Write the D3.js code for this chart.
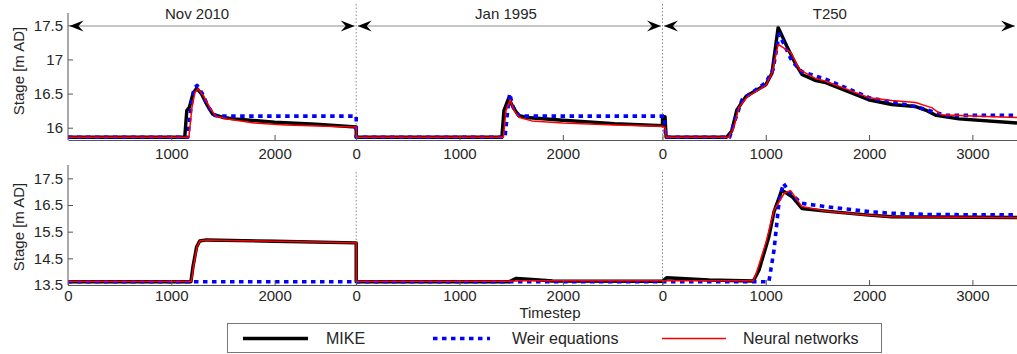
<!DOCTYPE html>
<html>
<head>
<meta charset="utf-8">
<script src="https://cdn.jsdelivr.net/npm/d3@7"></script>
<style>
  body { margin: 0; background: #fff; }
  svg text { font-family: "Liberation Sans", Arial, sans-serif; fill: #262626; }
</style>
</head>
<body>
<svg id="chart" width="1017" height="354"></svg>
<script>
// Events (segments along the x axis) and their lengths in timesteps
var events = ["Nov 2010", "Jan 1995", "T250"];
var eventLengths = [2790, 2965, 3432];
var eventTitleAt = [1250, 1450, 1620];

// Top panel series, one list of [timestep, stage] per event
var topMike = [
  [[0,15.86],[1130,15.86],[1150,16.25],[1175,16.3],[1210,16.5],[1245,16.58],[1290,16.5],[1340,16.35],[1400,16.2],[1500,16.15],[1610,16.13],[2000,16.08],[2400,16.05],[2790,16.01]],
  [[0,15.86],[1410,15.86],[1430,16.25],[1475,16.43],[1520,16.3],[1570,16.18],[1650,16.15],[2000,16.11],[2500,16.06],[2965,16.03]],
  [[0,16.16],[25,16.16],[35,15.86],[620,15.86],[670,15.95],[720,16.26],[810,16.46],[1000,16.63],[1060,16.8],[1120,17.47],[1205,17.19],[1290,16.93],[1350,16.78],[1485,16.69],[1580,16.66],[1995,16.41],[2220,16.34],[2450,16.31],[2560,16.25],[2650,16.18],[2870,16.13],[3432,16.07]]
];
var topWeir = [
  [[0,15.86],[1160,15.86],[1190,16.3],[1220,16.58],[1250,16.62],[1300,16.5],[1360,16.3],[1420,16.18],[1460,16.17],[2790,16.17]],
  [[0,15.86],[1440,15.86],[1470,16.3],[1485,16.5],[1520,16.3],[1580,16.17],[2965,16.17]],
  [[0,16.17],[20,16.17],[30,15.86],[650,15.86],[700,16.1],[770,16.41],[1000,16.66],[1070,16.85],[1130,17.37],[1255,16.97],[1350,16.82],[1580,16.71],[2000,16.44],[2450,16.31],[2650,16.22],[2750,16.18],[3432,16.18]]
];
var topNeural = [
  [[0,15.86],[1170,15.86],[1200,16.3],[1230,16.52],[1260,16.57],[1310,16.47],[1370,16.3],[1430,16.17],[1530,16.13],[1800,16.07],[2100,16.04],[2500,16.02],[2790,16.01]],
  [[0,15.86],[1425,15.86],[1450,16.25],[1490,16.41],[1530,16.25],[1580,16.15],[1700,16.1],[2000,16.07],[2500,16.04],[2965,16.02]],
  [[0,16.01],[25,16.01],[35,15.86],[640,15.86],[690,16.0],[740,16.3],[820,16.45],[1000,16.62],[1060,16.8],[1120,17.22],[1245,17.1],[1325,16.85],[1485,16.72],[1580,16.68],[2000,16.44],[2220,16.4],[2450,16.37],[2610,16.29],[2700,16.19],[3000,16.17],[3432,16.15]]
];

// Bottom panel series
var botMike = [
  [[0,13.62],[1190,13.62],[1210,14.19],[1245,14.93],[1275,15.15],[1340,15.19],[2000,15.14],[2790,15.08]],
  [[0,13.62],[1480,13.62],[1550,13.75],[1700,13.71],[1900,13.65],[2965,13.64]],
  [[0,13.64],[40,13.77],[450,13.69],[880,13.65],[935,14.06],[1030,15.31],[1080,16.25],[1155,17.06],[1255,16.81],[1350,16.37],[1580,16.27],[2000,16.12],[2220,16.06],[3432,16.03]]
];
var botWeir = [
  [[0,13.62],[2790,13.62]],
  [[0,13.62],[2965,13.62]],
  [[0,13.62],[1030,13.62],[1080,14.81],[1130,16.68],[1170,17.31],[1255,16.87],[1350,16.56],[1580,16.44],[2000,16.25],[2220,16.19],[2600,16.14],[3432,16.13]]
];
var botNeural = [
  [[0,13.63],[1195,13.63],[1215,14.2],[1250,14.95],[1280,15.16],[1345,15.19],[2000,15.14],[2790,15.08]],
  [[0,13.63],[1500,13.64],[1600,13.66],[2965,13.66]],
  [[0,13.66],[880,13.66],[905,13.9],[1000,15.07],[1080,16.31],[1180,16.95],[1240,17.04],[1350,16.44],[1580,16.27],[2000,16.12],[2220,16.06],[3432,16.02]]
];

var topYTicks = [16, 16.5, 17, 17.5];
var botYTicks = [13.5, 14.5, 15.5, 16.5, 17.5];
var localTicks = [1000, 2000, 3000];

var legendNames = ["MIKE", "Weir equations", "Neural networks"];

var styles = [
  {color: "#000000", width: 3.4, dash: null},
  {color: "#0000ff", width: 3.6, dash: "4.5,4.5"},
  {color: "#ff0000", width: 1.5, dash: null}
];

var W = 1017, H = 354;
var svg = d3.select("#chart");

var offsets = [0];
eventLengths.forEach(function(l, i) { offsets.push(offsets[i] + l); });

var x = d3.scaleLinear().domain([0, 9187]).range([68, 1017]);

var panels = [
  {top: 13, bottom: 140, domain: [15.82, 17.68], yTicks: topYTicks, series: [topMike, topWeir, topNeural], firstZero: false, labelY: 71, sepTop: 4, tickPad: 8},
  {top: 165, bottom: 285, domain: [13.5, 18.0], yTicks: botYTicks, series: [botMike, botWeir, botNeural], firstZero: true, labelY: 227, sepTop: 172, tickPad: 5}
];

// x tick positions in global timesteps, labelled with the event-local value
function xTickValues(firstZero) {
  var vals = [];
  events.forEach(function(e, i) {
    if (i > 0 || firstZero) vals.push(offsets[i]);
    localTicks.forEach(function(t) {
      if (offsets[i] + t < 9187 && t < eventLengths[i]) vals.push(offsets[i] + t);
    });
  });
  return vals;
}
function localLabel(v) {
  for (var i = events.length - 1; i >= 0; i--) {
    if (v >= offsets[i]) return String(v - offsets[i]);
  }
}

function flatten(seriesBySeg) {
  var pts = [];
  seriesBySeg.forEach(function(seg, i) {
    seg.forEach(function(p) { pts.push([offsets[i] + p[0], p[1]]); });
  });
  return pts;
}

panels.forEach(function(p, pi) {
  var y = d3.scaleLinear().domain(p.domain).range([p.bottom, p.top]);
  var g = svg.append("g").attr("class", "panel-" + pi);

  svg.append("clipPath").attr("id", "clip" + pi)
    .append("rect").attr("x", 68).attr("y", p.top - 10)
    .attr("width", W - 68).attr("height", p.bottom - p.top + 10);

  // dotted event separators
  g.selectAll(".sep").data(offsets.slice(1, events.length))
    .join("line").attr("class", "sep")
    .attr("x1", function(d) { return x(d); }).attr("x2", function(d) { return x(d); })
    .attr("y1", p.sepTop).attr("y2", p.bottom)
    .attr("stroke", "#888").attr("stroke-width", 1).attr("stroke-dasharray", "1.5,2");

  var line = d3.line().x(function(d) { return x(d[0]); }).y(function(d) { return y(d[1]); });

  g.append("g").attr("clip-path", "url(#clip" + pi + ")")
    .selectAll("path").data(p.series)
    .join("path")
    .attr("d", function(s) { return line(flatten(s)); })
    .attr("fill", "none")
    .attr("stroke", function(s, i) { return styles[i].color; })
    .attr("stroke-width", function(s, i) { return styles[i].width; })
    .attr("stroke-dasharray", function(s, i) { return styles[i].dash; })
    .attr("stroke-linejoin", "round");

  // axes
  var xAxis = d3.axisBottom(x).tickValues(xTickValues(p.firstZero))
    .tickFormat(localLabel).tickSize(-5).tickPadding(p.tickPad).tickSizeOuter(0);
  var yAxis = d3.axisLeft(y).tickValues(p.yTicks)
    .tickFormat(d3.format("")).tickSize(-5).tickPadding(5).tickSizeOuter(0);

  var gx = g.append("g").attr("transform", "translate(0," + p.bottom + ")").call(xAxis);
  var gy = g.append("g").attr("transform", "translate(68,0)").call(yAxis);
  [gx, gy].forEach(function(a) {
    a.select(".domain").attr("stroke", "#555");
    a.selectAll(".tick line").attr("stroke", "#555");
    a.selectAll(".tick text").style("font-size", "15px").attr("fill", "#262626");
  });
  gy.select(".domain").attr("d", "M0," + p.bottom + "V" + p.top);

  g.append("text")
    .attr("transform", "translate(24," + p.labelY + ") rotate(-90)")
    .attr("text-anchor", "middle")
    .style("font-size", "15px")
    .text("Stage [m AD]");
});

// event arrows and titles on the top panel
var arrowY = 26;
function arrowHead(tipX, dir) {
  var b = tipX - dir * 14, n = tipX - dir * 9;
  return "M" + tipX + "," + arrowY + "L" + b + "," + (arrowY - 5.5) +
    "L" + n + "," + arrowY + "L" + b + "," + (arrowY + 5.5) + "Z";
}
var arrows = svg.append("g").attr("class", "arrows");
events.forEach(function(e, i) {
  var x0 = x(offsets[i]) + 1.5, x1 = Math.min(x(offsets[i + 1]) - 1.5, W - 2);
  arrows.append("line").attr("x1", x0).attr("x2", x1)
    .attr("y1", arrowY).attr("y2", arrowY)
    .attr("stroke", "#8c8c8c").attr("stroke-width", 1.2);
  arrows.append("path").attr("d", arrowHead(x0, -1)).attr("fill", "#000");
  arrows.append("path").attr("d", arrowHead(x1, 1)).attr("fill", "#000");
  arrows.append("text")
    .attr("x", x(offsets[i] + eventTitleAt[i])).attr("y", 19)
    .attr("text-anchor", "middle").style("font-size", "15px")
    .text(e);
});

svg.append("text")
  .attr("x", 550).attr("y", 318)
  .attr("text-anchor", "middle").style("font-size", "15px")
  .text("Timestep");

// legend
var legend = svg.append("g").attr("class", "legend");
legend.append("rect").attr("x", 227.5).attr("y", 323.5).attr("width", 654).attr("height", 29)
  .attr("fill", "#fff").attr("stroke", "#777").attr("stroke-width", 1);
var legendX = [[243, 308, 326], [433, 490, 512], [662, 726, 743]];
legendNames.forEach(function(name, i) {
  legend.append("line")
    .attr("x1", legendX[i][0]).attr("x2", legendX[i][1])
    .attr("y1", 338.5).attr("y2", 338.5)
    .attr("stroke", styles[i].color).attr("stroke-width", styles[i].width)
    .attr("stroke-dasharray", styles[i].dash);
  legend.append("text")
    .attr("x", legendX[i][2]).attr("y", 344)
    .style("font-size", "16px")
    .text(name);
});
</script>
</body>
</html>
